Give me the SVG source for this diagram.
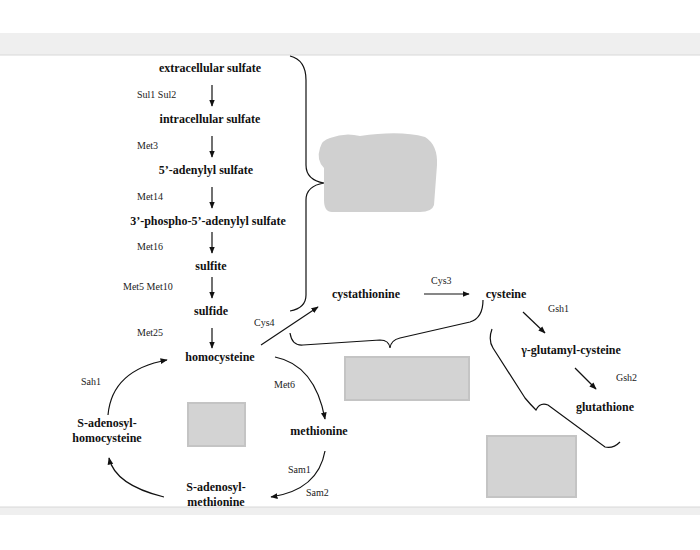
<svg xmlns="http://www.w3.org/2000/svg" width="700" height="550" viewBox="0 0 700 550">
<defs>
<marker id="ah" viewBox="0 0 10 10" refX="9" refY="5" markerWidth="6" markerHeight="6" orient="auto"><path d="M0,1 L10,5 L0,9 z" fill="#111"/></marker>
<style>
.n{font-family:"Liberation Serif",serif;font-weight:bold;font-size:12px;fill:#111;text-anchor:middle}
.e{font-family:"Liberation Serif",serif;font-size:10px;fill:#222}
.c{fill:none;stroke:#111;stroke-width:1.2;marker-end:url(#ah)}
.b{fill:none;stroke:#111;stroke-width:1.2}
.g{fill:#d3d3d3;stroke:#c4c4c4;stroke-width:2}
</style>
</defs>
<rect x="0" y="0" width="700" height="550" fill="#fff"/>
<rect x="0" y="33" width="700" height="22" fill="#efefef"/>
<line x1="0" y1="55" x2="700" y2="55" stroke="#d8d8d8"/>
<rect x="0" y="507" width="700" height="8" fill="#efefef"/>
<line x1="0" y1="507" x2="700" y2="507" stroke="#d8d8d8"/>
<g id="connectors">
<line class="c" x1="212" y1="85" x2="212" y2="106"/>
<line class="c" x1="212" y1="136" x2="212" y2="157"/>
<line class="c" x1="212" y1="187" x2="212" y2="208"/>
<line class="c" x1="212" y1="232" x2="212" y2="253"/>
<line class="c" x1="212" y1="277" x2="212" y2="298"/>
<line class="c" x1="212" y1="328" x2="212" y2="348"/>
<line class="c" x1="261" y1="345" x2="318" y2="307"/>
<line class="c" x1="424" y1="294" x2="469" y2="294"/>
<line class="c" x1="523" y1="312" x2="545" y2="333"/>
<line class="c" x1="575" y1="368" x2="596" y2="389"/>
<path class="c" d="M275,357 Q315,365 325,419"/>
<path class="c" d="M325,451 Q318,490 271,497"/>
<path class="c" d="M164,497 Q115,485 109,458"/>
<path class="c" d="M108,415 Q112,370 167,360"/>
<path class="b" d="M290,56 Q306,60 306,80 L306,165 Q306,180 324,183 Q306,186 306,200 L306,295 Q306,308 290,311"/>
<path class="b" d="M290,333 Q292,346 303,345 L380,340 Q389,340 390,348 Q391,340 400,338 L470,322 Q483,318 483,300"/>
<path class="b" d="M492,329 Q488,340 493,348 L525,398 Q530,404 536,410 Q540,402 548,405 L605,447 Q613,449 620,442"/>
</g>
<g id="n1"><text class="n" x="210" y="72">extracellular sulfate</text></g>
<g id="n2"><text class="n" x="210" y="123">intracellular sulfate</text></g>
<g id="n3"><text class="n" x="206" y="174">5’-adenylyl sulfate</text></g>
<g id="n4"><text class="n" x="208" y="225">3’-phospho-5’-adenylyl sulfate</text></g>
<g id="n5"><text class="n" x="211" y="270">sulfite</text></g>
<g id="n6"><text class="n" x="211" y="315">sulfide</text></g>
<g id="n7"><text class="n" x="220" y="361">homocysteine</text></g>
<g id="n8"><text class="n" x="366" y="298">cystathionine</text></g>
<g id="n9"><text class="n" x="506" y="298">cysteine</text></g>
<g id="n10"><text class="n" x="571" y="354">γ-glutamyl-cysteine</text></g>
<g id="n11"><text class="n" x="605" y="411">glutathione</text></g>
<g id="n12"><text class="n" x="319" y="435">methionine</text></g>
<g id="n13"><text class="n" x="216" y="491">S-adenosyl-</text><text class="n" x="216" y="506">methionine</text></g>
<g id="n14"><text class="n" x="107" y="427">S-adenosyl-</text><text class="n" x="107" y="442">homocysteine</text></g>
<g id="labels">
<text class="e" x="137" y="98">Sul1 Sul2</text>
<text class="e" x="137" y="149">Met3</text>
<text class="e" x="137" y="200">Met14</text>
<text class="e" x="137" y="250">Met16</text>
<text class="e" x="123" y="290">Met5 Met10</text>
<text class="e" x="137" y="336">Met25</text>
<text class="e" x="254" y="326">Cys4</text>
<text class="e" x="431" y="284">Cys3</text>
<text class="e" x="548" y="312">Gsh1</text>
<text class="e" x="616" y="381">Gsh2</text>
<text class="e" x="274" y="388">Met6</text>
<text class="e" x="288" y="473">Sam1</text>
<text class="e" x="306" y="496">Sam2</text>
<text class="e" x="81" y="385">Sah1</text>
</g>
<g id="blobs">
<path fill="#d0d0d0" d="M330,138 Q345,132 360,136 Q400,130 425,137 Q438,145 437,165 L434,205 Q432,212 420,212 L332,212 Q324,212 324,200 L324,168 Q316,160 320,148 Q322,140 330,138 z"/>
<rect class="g" x="345" y="357" width="124" height="43"/>
<rect class="g" x="188" y="403" width="57" height="43"/>
<rect class="g" x="487" y="436" width="89" height="61"/>
</g>
</svg>
